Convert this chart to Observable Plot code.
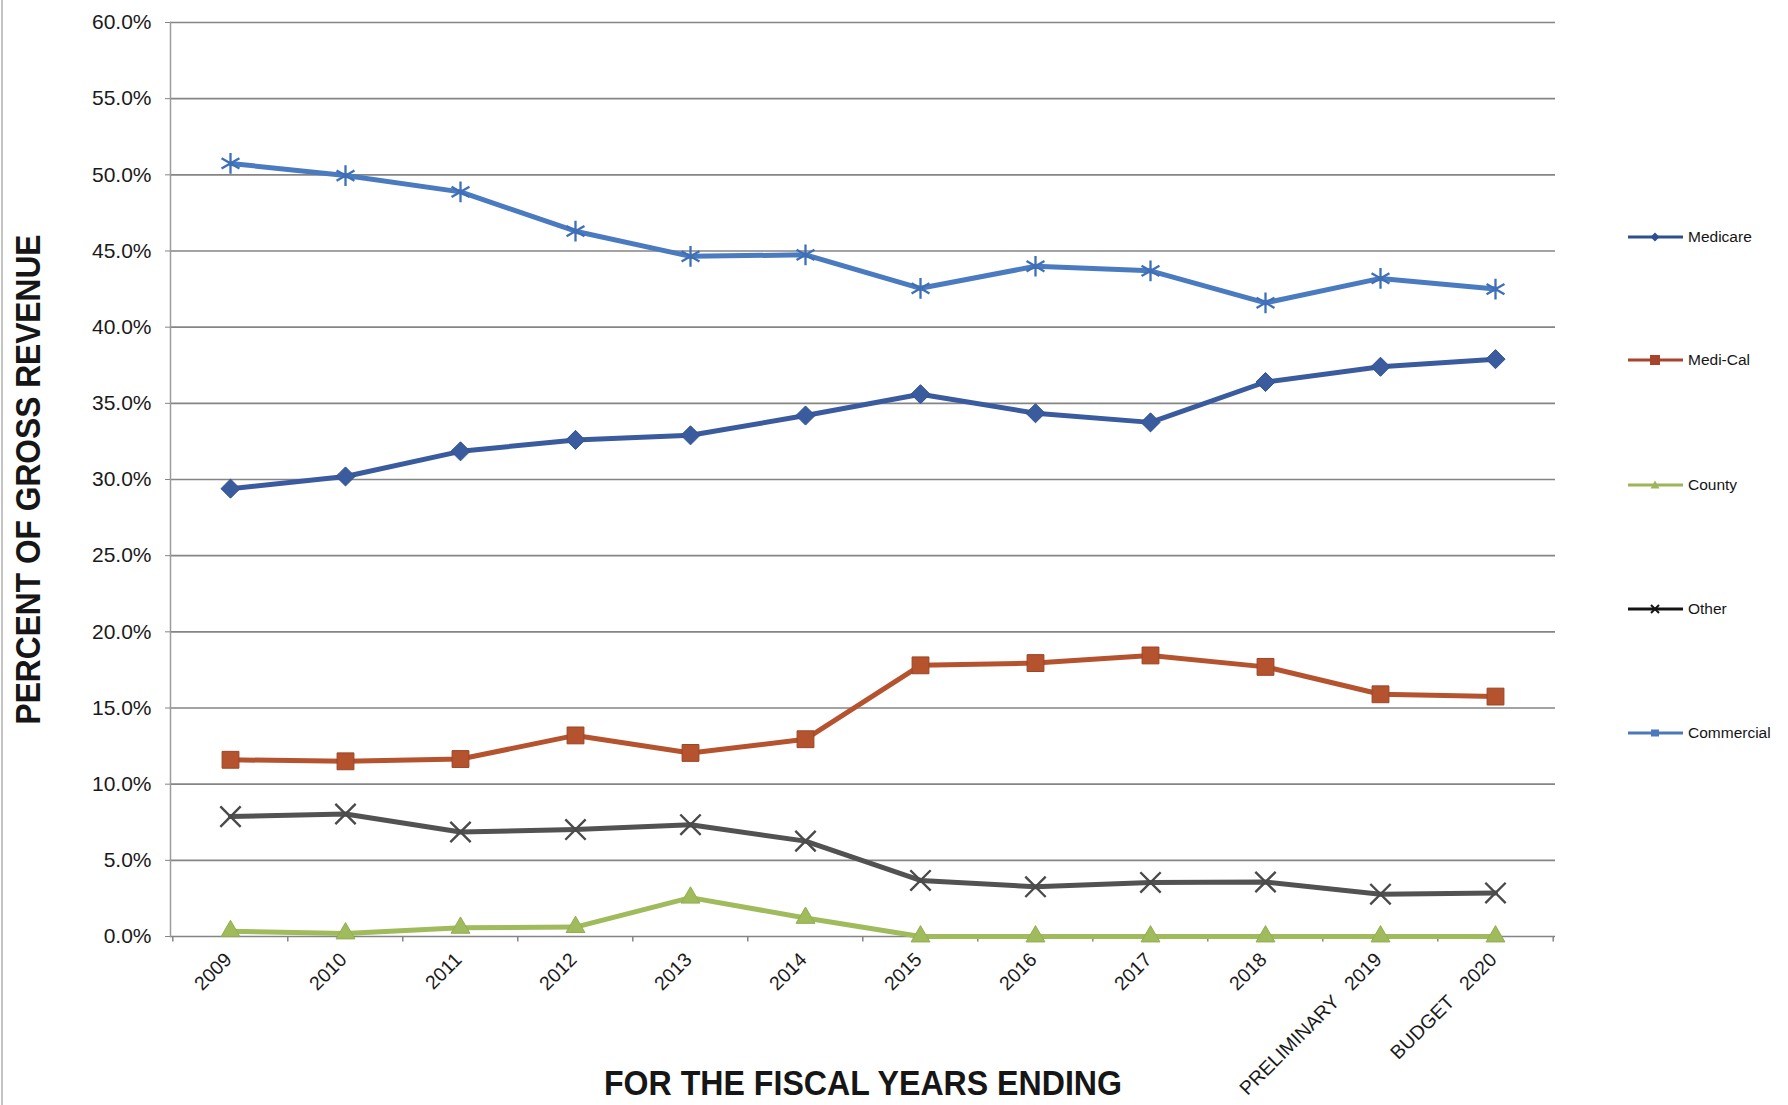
<!DOCTYPE html>
<html><head><meta charset="utf-8">
<script src="https://cdn.jsdelivr.net/npm/d3@7"></script>
<script src="https://cdn.jsdelivr.net/npm/@observablehq/plot@0.6"></script>
<style>
body{margin:0;background:#fff;font-family:"Liberation Sans",Arial,sans-serif;}
#wrap{position:relative;width:1788px;height:1105px;overflow:hidden;background:#fff;}
#border{position:absolute;left:1px;top:0;width:2px;height:1105px;background:#c4c4c4;}
#legend{position:absolute;left:1627px;top:0;width:161px;height:1105px;}
.item{position:absolute;left:0;height:16px;display:flex;align-items:center;font-size:15.5px;color:#151515;white-space:nowrap;}
.item svg{margin-right:4px;}
#chart g[aria-label="y-axis label"] text,
#chart g[aria-label="x-axis label"] text{font-size:35px;font-weight:bold;fill:#161616;}
</style></head><body>
<div id="wrap"><div id="chart"></div><div id="border"></div><div id="legend"></div></div>
<script>
const years = ["2009","2010","2011","2012","2013","2014","2015","2016","2017","2018","2019","2020"];
const yearLabels = ["2009","2010","2011","2012","2013","2014","2015","2016","2017","2018",
  "PRELIMINARY\u00a0\u00a0\u00a02019","BUDGET\u00a0\u00a0\u00a02020"];
const yTicks = [0,5,10,15,20,25,30,35,40,45,50,55,60];

const medicare   = [29.4, 30.2, 31.85, 32.6, 32.9, 34.2, 35.6, 34.35, 33.75, 36.4, 37.4, 37.9];
const medical    = [11.6, 11.5, 11.65, 13.2, 12.05, 12.95, 17.8, 17.95, 18.45, 17.7, 15.9, 15.75];
const county     = [0.35, 0.2, 0.57, 0.62, 2.55, 1.22, 0.0, 0.0, 0.0, 0.0, 0.0, 0.0];
const other      = [7.87, 8.04, 6.86, 7.02, 7.34, 6.26, 3.68, 3.26, 3.55, 3.58, 2.78, 2.86];
const commercial = [50.75, 49.95, 48.88, 46.3, 44.65, 44.75, 42.55, 44.0, 43.7, 41.6, 43.2, 42.5];

const seriesNames = ["Medicare","Medi-Cal","County","Other","Commercial"];
const seriesValues = [medicare, medical, county, other, commercial];
const lineColors = ["#3a5b9e","#b5532f","#9fbb5c","#525252","#4a7bc0"];
const legendColors = ["#2f4f92","#a8442b","#9bb65a","#141414","#4a78ba"];

const rows = years.flatMap((yr, i) => seriesNames.map((name, s) => ({year: yr, name, value: seriesValues[s][i]})));
const bySeries = name => rows.filter(d => d.name === name);

const W = 1788, H = 1105, ML = 170, MR = 233, MT = 22, MB = 169;
const half = (W - ML - MR) / years.length / 2;
const gridColor = "#858585";

const markerStyles = {
  "Medicare":   {symbol: "diamond2", r: 8.6, fill: "#3a5b9e", stroke: "#31528f", strokeWidth: 1},
  "Medi-Cal":   {symbol: "square", r: 9.5, fill: "#b5532f", stroke: "#9c4426", strokeWidth: 1},
  "County":     {symbol: "triangle", r: 7, fill: "#9fbb5c", stroke: "#93ae52", strokeWidth: 1},
  "Other":      {symbol: "times", r: 9.3, fill: "none", stroke: "#4a4a4a", strokeWidth: 2.4},
  "Commercial": {symbol: "asterisk", r: 9.8, fill: "none", stroke: "#3f6fb6", strokeWidth: 2.3}
};

const seriesMarks = seriesNames.flatMap((name, s) => [
  Plot.line(bySeries(name), {x: "year", y: "value", stroke: lineColors[s], strokeWidth: 5, strokeLinejoin: "round"}),
  Plot.dot(bySeries(name), {x: "year", y: "value", ...markerStyles[name]})
]);

const chart = Plot.plot({
  width: W, height: H,
  marginLeft: ML, marginRight: MR, marginTop: MT, marginBottom: MB,
  style: {fontFamily: "'Liberation Sans', Arial, sans-serif", color: "#1a1a1a", background: "transparent", overflow: "visible"},
  x: {type: "point", domain: years, padding: 0.5},
  y: {domain: [0, 60]},
  marks: [
    Plot.ruleY(yTicks, {stroke: gridColor, strokeWidth: 1.7}),
    Plot.frame({anchor: "left", stroke: "#9c9c9c", strokeWidth: 1.5}),
    Plot.ruleX(years, {x: d => d, y1: 0, y2: -0.36, dx: -half, stroke: gridColor, strokeWidth: 1.5}),
    Plot.ruleX([years[years.length - 1]], {x: d => d, y1: 0, y2: -0.36, dx: half, stroke: gridColor, strokeWidth: 1.5}),
    Plot.axisY({ticks: yTicks, tickFormat: d => d.toFixed(1) + "%", tickSize: 5, tickPadding: 14, fontSize: 21,
      stroke: gridColor, label: "PERCENT OF GROSS REVENUE", labelAnchor: "center", labelOffset: 155, labelArrow: "none"}),
    Plot.axisX({tickFormat: d => yearLabels[years.indexOf(d)], tickRotate: -45, tickSize: 0, tickPadding: 20, dx: -2,
      fontSize: 19.5, label: "FOR THE FISCAL YEARS ENDING", labelAnchor: "center", labelOffset: 158, labelArrow: "none"}),
    ...seriesMarks
  ]
});
document.getElementById("chart").appendChild(chart);

const svg = d3.select(chart);
svg.select('g[aria-label="y-axis label"] text').attr("textLength", 490).attr("lengthAdjust", "spacingAndGlyphs");
svg.select('g[aria-label="x-axis label"] text').attr("textLength", 518).attr("lengthAdjust", "spacingAndGlyphs");

// legend
const legendTops = [237, 360, 485, 609, 733];
const legendSymbol = (name, c) => {
  const cx = 28, cy = 8;
  switch (name) {
    case "Medicare": return `<path d="M${cx},${cy-4.5}L${cx+4.5},${cy}L${cx},${cy+4.5}L${cx-4.5},${cy}Z" fill="${c}"/>`;
    case "Medi-Cal": return `<rect x="${cx-5}" y="${cy-5}" width="10" height="10" fill="${c}"/>`;
    case "County": return `<path d="M${cx},${cy-4.5}L${cx+4.5},${cy+3.5}L${cx-4.5},${cy+3.5}Z" fill="${c}"/>`;
    case "Other": return `<path d="M${cx-4},${cy-4}L${cx+4},${cy+4}M${cx+4},${cy-4}L${cx-4},${cy+4}" stroke="${c}" stroke-width="2"/>`;
    default: return `<rect x="${cx-4}" y="${cy-3.5}" width="8" height="7" fill="${c}"/>`;
  }
};
const legend = d3.select("#legend");
seriesNames.forEach((name, i) => {
  const c = legendColors[i];
  legend.append("div").attr("class", "item").style("top", (legendTops[i] - 8) + "px")
    .html(`<svg width="57" height="16"><line x1="1" x2="56" y1="8" y2="8" stroke="${c}" stroke-width="3"/>${legendSymbol(name, c)}</svg><span>${name}</span>`);
});
</script>
</body></html>
